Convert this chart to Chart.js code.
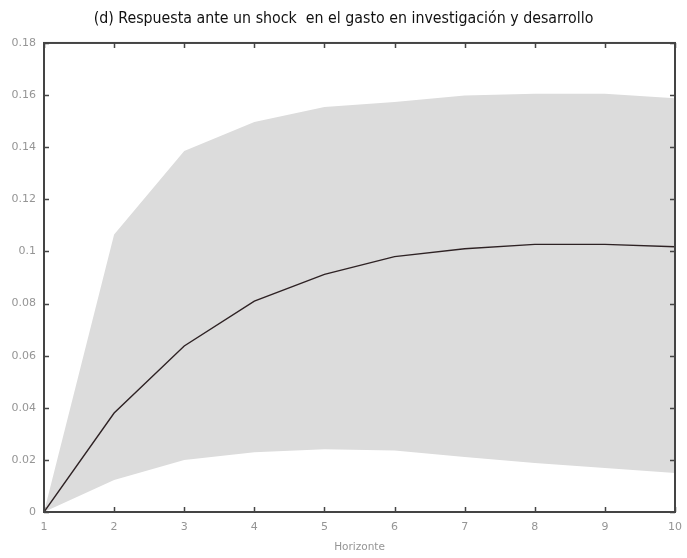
<!DOCTYPE html>
<html>
<head>
<meta charset="utf-8">
<script src="https://cdn.jsdelivr.net/npm/chart.js@4"></script>
<style>
  html, body { margin: 0; padding: 0; background: #ffffff; }
  #wrap { width: 687px; height: 558px; }
</style>
</head>
<body>
<div id="wrap"><canvas id="c" width="687" height="558"></canvas></div>
<script>
// Impulse response horizons
const horizons = [1, 2, 3, 4, 5, 6, 7, 8, 9, 10];
// Point estimate of the response
const response = [0, 0.0380, 0.0637, 0.0809, 0.0912, 0.0980, 0.1010, 0.1027, 0.1027, 0.1018];
// Upper and lower confidence bounds
const upperBand = [0, 0.1065, 0.1385, 0.1497, 0.1554, 0.1573, 0.1598, 0.1605, 0.1605, 0.1588];
const lowerBand = [0, 0.0123, 0.0200, 0.0229, 0.0241, 0.0236, 0.0211, 0.0188, 0.0169, 0.0150];
// Axis ticks
const xTicks = [1, 2, 3, 4, 5, 6, 7, 8, 9, 10];
const yTicks = [0, 0.02, 0.04, 0.06, 0.08, 0.1, 0.12, 0.14, 0.16, 0.18];

const titleText = '(d) Respuesta ante un shock  en el gasto en investigación y desarrollo';
const xTitle = 'Horizonte';

const toPoints = arr => horizons.map((h, i) => ({ x: h, y: arr[i] }));

// Frame around the plot area with inward tick marks on every side
const framePlugin = {
  id: 'frame',
  afterDatasetsDraw(chart) {
    const { ctx, chartArea: a, scales } = chart;
    const len = 5;
    ctx.save();
    ctx.strokeStyle = '#454545';
    ctx.lineWidth = 1.5;
    ctx.beginPath();
    xTicks.forEach(v => {
      const px = Math.round(scales.x.getPixelForValue(v)) + 0.5;
      ctx.moveTo(px, a.bottom); ctx.lineTo(px, a.bottom - len);
      ctx.moveTo(px, a.top); ctx.lineTo(px, a.top + len);
    });
    yTicks.forEach(v => {
      const py = Math.round(scales.y.getPixelForValue(v)) + 0.5;
      ctx.moveTo(a.left, py); ctx.lineTo(a.left + len, py);
      ctx.moveTo(a.right, py); ctx.lineTo(a.right - len, py);
    });
    ctx.stroke();
    ctx.lineWidth = 2;
    ctx.strokeStyle = '#444444';
    ctx.strokeRect(a.left, a.top, a.right - a.left, a.bottom - a.top);
    ctx.restore();
  }
};

const tickFont = { family: '"DejaVu Sans", Verdana, sans-serif', size: 11 };

new Chart(document.getElementById('c'), {
  type: 'line',
  data: {
    datasets: [
      {
        label: 'Superior',
        data: toPoints(upperBand),
        borderWidth: 0,
        borderColor: 'rgba(0,0,0,0)',
        backgroundColor: '#dcdcdc',
        pointRadius: 0,
        fill: '+1',
        tension: 0
      },
      {
        label: 'Inferior',
        data: toPoints(lowerBand),
        borderWidth: 0,
        borderColor: 'rgba(0,0,0,0)',
        pointRadius: 0,
        fill: false,
        tension: 0
      },
      {
        label: 'Respuesta',
        data: toPoints(response),
        borderWidth: 1.4,
        borderColor: '#2e2224',
        pointRadius: 0,
        fill: false,
        tension: 0
      }
    ]
  },
  options: {
    responsive: false,
    animation: false,
    layout: { padding: 0 },
    plugins: {
      legend: { display: false },
      tooltip: { enabled: false },
      filler: { drawTime: 'beforeDatasetsDraw' },
      title: {
        display: true,
        text: titleText,
        color: '#111111',
        font: { family: '"Liberation Sans Narrow", "DejaVu Sans Condensed", "Liberation Sans", sans-serif', size: 15.8, weight: 'normal', lineHeight: 1.2 },
        padding: { top: 9, bottom: 15 }
      }
    },
    scales: {
      x: {
        type: 'linear',
        min: 1,
        max: 10,
        afterBuildTicks(scale) { scale.ticks = xTicks.map(v => ({ value: v })); },
        afterFit(scale) { scale.height = 46; scale.paddingRight = 0; scale.paddingLeft = 0; },
        grid: { display: false, drawTicks: false, tickLength: 0 },
        border: { display: false },
        ticks: {
          color: '#959595',
          font: tickFont,
          padding: 9,
          maxRotation: 0,
          callback: v => String(v)
        },
        title: {
          display: true,
          text: xTitle,
          color: '#959595',
          font: { family: '"DejaVu Sans", Verdana, sans-serif', size: 10.5 },
          padding: { top: 2, bottom: 4 }
        }
      },
      y: {
        type: 'linear',
        min: 0,
        max: 0.18,
        afterBuildTicks(scale) { scale.ticks = yTicks.map(v => ({ value: v })); },
        afterFit(scale) { scale.width = 44; scale.paddingTop = 0; scale.paddingBottom = 0; },
        grid: { display: false, drawTicks: false, tickLength: 0 },
        border: { display: false },
        ticks: {
          color: '#959595',
          font: tickFont,
          padding: 8,
          callback: v => String(Number(v.toFixed(2)))
        }
      },
      // empty right-hand margin beside the frame
      yRight: {
        type: 'linear',
        position: 'right',
        min: 0,
        max: 0.18,
        afterFit(scale) { scale.width = 12; scale.paddingTop = 0; scale.paddingBottom = 0; },
        grid: { display: false },
        border: { display: false },
        ticks: { display: false }
      }
    }
  },
  plugins: [framePlugin]
});
</script>
</body>
</html>
